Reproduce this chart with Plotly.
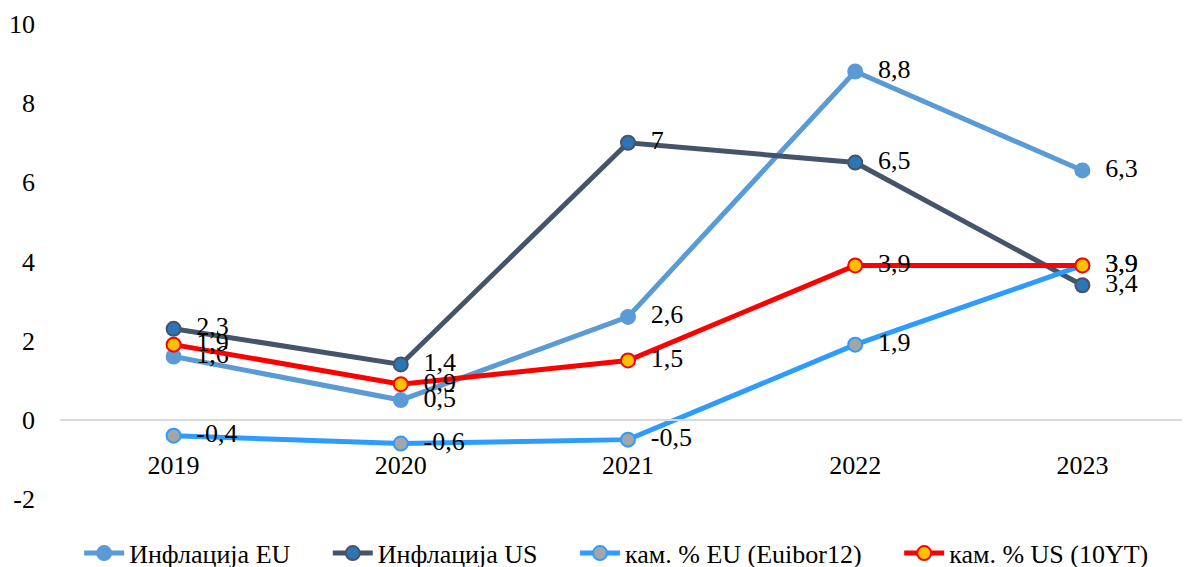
import plotly.graph_objects as go

years = ["2019", "2020", "2021", "2022", "2023"]
infl_eu = [1.6, 0.5, 2.6, 8.8, 6.3]
infl_us = [2.3, 1.4, 7, 6.5, 3.4]
rate_eu = [-0.4, -0.6, -0.5, 1.9, 3.9]
rate_us = [1.9, 0.9, 1.5, 3.9, 3.9]
y_ticks = [-2, 0, 2, 4, 6, 8, 10]
y_tick_labels = ["-2", "0", "2", "4", "6", "8", "10"]

names = ["Инфлација EU", "Инфлација US", "кам. % EU (Euibor12)", "кам. % US (10YT)"]
series = [infl_eu, infl_us, rate_eu, rate_us]
line_colors = ["#5B9BD5", "#44546A", "#2E9BFF", "#FF0000"]
marker_fill = ["#5B9BD5", "#2E75B6", "#A5A5A5", "#FFC000"]
marker_line = ["#5B9BD5", "#44546A", "#2E9BFF", "#FF0000"]

FONT = "Liberation Serif"
FS = 26

def fmt(v):
    s = ("%g" % v).replace(".", ",")
    return "  " + s

fig = go.Figure()
for i, (name, vals, lc, mf, ml) in enumerate(zip(names, series, line_colors, marker_fill, marker_line)):
    legend_name = name + ("\u00a0" * 5 if i < len(names) - 1 else "")
    fig.add_trace(go.Scatter(
        x=years, y=vals, name=legend_name, mode="lines+markers+text",
        line=dict(color=lc, width=5),
        marker=dict(size=14, color=mf, line=dict(color=ml, width=2)),
        text=[fmt(v) for v in vals], textposition="middle right",
        textfont=dict(family=FONT, size=FS, color="#000000"),
        cliponaxis=False,
    ))

fig.update_layout(
    width=1190, height=567,
    margin=dict(l=52, r=2, t=16, b=76, autoexpand=False),
    paper_bgcolor="white", plot_bgcolor="white",
    font=dict(family=FONT, size=FS, color="#000000"),
    showlegend=True,
    legend=dict(orientation="h", x=0.49, xanchor="center", y=-0.114, yanchor="middle",
                font=dict(family=FONT, size=FS, color="#000000"), itemwidth=40,
                traceorder="normal"),
    xaxis=dict(type="category", range=[-0.5, 4.5], anchor="free", position=1/6,
               showline=True, linecolor="#D9D9D9", linewidth=2, showgrid=False,
               zeroline=False, ticks="", ticklabelstandoff=22, automargin=False,
               tickfont=dict(family=FONT, size=FS, color="#000000")),
    yaxis=dict(range=[-2, 10], tickvals=y_ticks, ticktext=y_tick_labels,
               showgrid=False, zeroline=False, showline=False,
               ticks="", ticklabelstandoff=24, automargin=False,
               tickfont=dict(family=FONT, size=FS, color="#000000")),
)

fig.write_html("out.html")
